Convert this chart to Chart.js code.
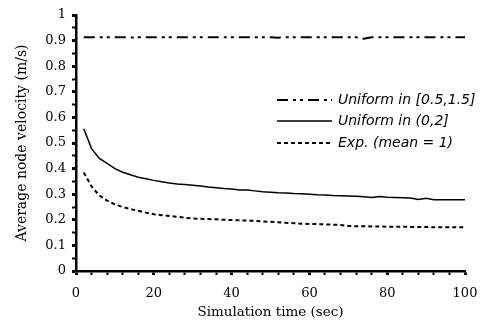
<!DOCTYPE html>
<html>
<head>
<meta charset="utf-8">
<script src="https://cdn.jsdelivr.net/npm/chart.js@4"></script>
<style>
  body { margin: 0; background: #fff; }
  #wrap { width: 484px; height: 321px; }
</style>
</head>
<body>
<div id="wrap"><canvas id="chart"></canvas></div>
<script>
// Simulation time (sec)
const times = [2, 4, 6, 8, 10, 12, 14, 16, 18, 20, 22, 24, 26, 28, 30, 32, 34, 36, 38, 40,
  42, 44, 46, 48, 50, 52, 54, 56, 58, 60, 62, 64, 66, 68, 70, 72, 74, 76, 78, 80,
  82, 84, 86, 88, 90, 92, 94, 96, 98, 100];

// Average node velocity (m/s)
const uniformHigh = [0.913, 0.913, 0.913, 0.913, 0.913, 0.913, 0.912, 0.913, 0.913, 0.913,
  0.913, 0.913, 0.913, 0.913, 0.913, 0.913, 0.913, 0.913, 0.913, 0.913,
  0.913, 0.913, 0.913, 0.913, 0.913, 0.911, 0.913, 0.913, 0.913, 0.913,
  0.913, 0.913, 0.913, 0.913, 0.913, 0.913, 0.907, 0.913, 0.913, 0.913,
  0.913, 0.913, 0.913, 0.913, 0.913, 0.913, 0.913, 0.913, 0.913, 0.913];

const uniformLow = [0.556, 0.478, 0.44, 0.42, 0.40, 0.386, 0.376, 0.366, 0.36, 0.354,
  0.349, 0.344, 0.34, 0.338, 0.335, 0.332, 0.328, 0.325, 0.322, 0.32,
  0.316, 0.316, 0.313, 0.31, 0.308, 0.306, 0.305, 0.303, 0.302, 0.30,
  0.298, 0.297, 0.295, 0.294, 0.293, 0.292, 0.29, 0.287, 0.291, 0.288,
  0.287, 0.286, 0.285, 0.279, 0.284, 0.278, 0.278, 0.278, 0.278, 0.278];

const expMean1 = [0.385, 0.33, 0.295, 0.275, 0.26, 0.25, 0.242, 0.235, 0.228, 0.222,
  0.218, 0.215, 0.212, 0.208, 0.205, 0.204, 0.203, 0.202, 0.200, 0.199,
  0.198, 0.197, 0.196, 0.194, 0.192, 0.19, 0.188, 0.187, 0.185, 0.184,
  0.183, 0.182, 0.181, 0.18, 0.176, 0.175, 0.175, 0.174, 0.174, 0.173,
  0.173, 0.173, 0.172, 0.172, 0.172, 0.171, 0.171, 0.171, 0.171, 0.171];

const seriesNames = ['Uniform in [0.5,1.5]', 'Uniform in (0,2]', 'Exp. (mean = 1)'];

const serif = "'DejaVu Serif', serif";

function toPoints(values) {
  return values.map((v, i) => ({ x: times[i], y: v }));
}

// Leyenda dentro del área del gráfico
const insideLegend = {
  id: 'insideLegend',
  afterDraw(chart) {
    const ctx = chart.ctx;
    const rows = [100, 121, 143];
    ctx.save();
    chart.data.datasets.forEach((ds, i) => {
      ctx.beginPath();
      ctx.setLineDash(ds.borderDash || []);
      ctx.lineWidth = ds.borderWidth;
      ctx.strokeStyle = '#000';
      ctx.moveTo(277, rows[i]);
      ctx.lineTo(332, rows[i]);
      ctx.stroke();
      ctx.setLineDash([]);
      ctx.fillStyle = '#000';
      ctx.font = "italic 14px 'DejaVu Sans', sans-serif";
      ctx.textBaseline = 'middle';
      ctx.textAlign = 'left';
      ctx.fillText(ds.label, 338, rows[i]);
    });
    ctx.restore();
  }
};

new Chart(document.getElementById('chart'), {
  type: 'line',
  data: {
    datasets: [
      { label: seriesNames[0], data: toPoints(uniformHigh), borderColor: '#000', borderWidth: 2, borderDash: [11, 5, 3, 4, 3, 5] },
      { label: seriesNames[1], data: toPoints(uniformLow), borderColor: '#000', borderWidth: 1.5 },
      { label: seriesNames[2], data: toPoints(expMean1), borderColor: '#000', borderWidth: 2, borderDash: [4, 3] }
    ]
  },
  options: {
    responsive: true,
    maintainAspectRatio: false,
    animation: false,
    layout: { padding: { top: 15, right: 19, left: 0, bottom: 0 } },
    elements: { point: { radius: 0 }, line: { tension: 0, fill: false } },
    plugins: { legend: { display: false }, tooltip: { enabled: false } },
    scales: {
      x: {
        type: 'linear',
        min: 0,
        max: 100,
        afterFit: s => { s.height = 50; s.paddingLeft = 0; s.paddingRight = 0; },
        border: { display: true, color: '#000', width: 2.5 },
        grid: {
          drawOnChartArea: false,
          drawTicks: true,
          tickLength: 4,
          tickColor: '#000',
          tickWidth: c => (c.tick && c.tick.value % 20 === 0 ? 3 : 2)
        },
        ticks: {
          stepSize: 4,
          autoSkip: false,
          maxRotation: 0,
          padding: 11,
          color: '#000',
          font: { family: serif, size: 13 },
          callback: v => (v % 20 === 0 ? String(v) : '')
        },
        title: {
          display: true,
          text: 'Simulation time (sec)',
          color: '#000',
          font: { family: serif, size: 13.5 },
          padding: { top: 2, bottom: 0 }
        }
      },
      y: {
        min: 0,
        max: 1,
        afterFit: s => { s.width = 76; s.paddingTop = 0; s.paddingBottom = 0; },
        border: { display: true, color: '#000', width: 2.5 },
        grid: {
          drawOnChartArea: false,
          drawTicks: true,
          tickLength: 4,
          tickColor: '#000',
          tickWidth: c => (c.tick && Math.round(c.tick.value * 20) % 2 === 0 ? 3 : 2)
        },
        ticks: {
          stepSize: 0.05,
          autoSkip: false,
          padding: 6,
          color: '#000',
          font: { family: serif, size: 13 },
          callback: v => {
            const k = Math.round(v * 20);
            if (k % 2 !== 0) return '';
            if (k === 0) return '0';
            if (k === 20) return '1';
            return (k / 20).toFixed(1);
          }
        },
        title: {
          display: true,
          text: 'Average node velocity (m/s)',
          color: '#000',
          font: { family: serif, size: 14 },
          padding: { top: 14, bottom: 4 }
        }
      }
    }
  },
  plugins: [insideLegend]
});
</script>
</body>
</html>
